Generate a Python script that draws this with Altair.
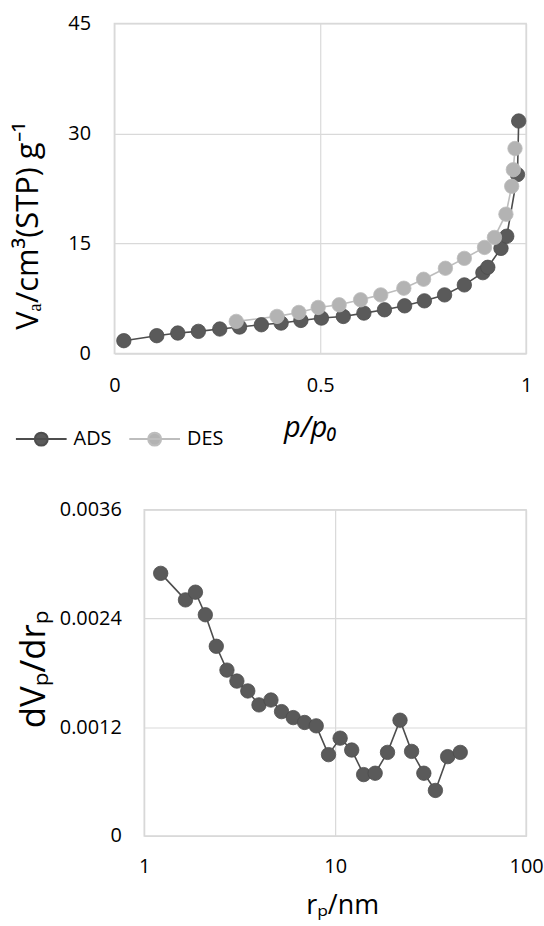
import altair as alt
import pandas as pd

# ---- top panel: N2 isotherm ----
ads_p = [0.023, 0.103, 0.154, 0.204, 0.256, 0.304, 0.357, 0.405, 0.453, 0.503,
         0.556, 0.606, 0.656, 0.705, 0.753, 0.802, 0.850, 0.895, 0.907, 0.939,
         0.953, 0.979, 0.982]
ads_v = [1.76, 2.44, 2.80, 3.03, 3.35, 3.62, 3.93, 4.16, 4.52, 4.84,
         5.06, 5.52, 5.97, 6.51, 7.19, 8.00, 9.36, 11.03, 11.76, 14.34,
         16.0, 24.4, 31.7]
des_p = [0.296, 0.395, 0.448, 0.495, 0.546, 0.598, 0.647, 0.703, 0.751, 0.804,
         0.850, 0.899, 0.923, 0.951, 0.965, 0.969, 0.973]
des_v = [4.39, 5.07, 5.61, 6.29, 6.65, 7.33, 8.00, 8.91, 10.13, 11.63,
         12.98, 14.47, 15.83, 19.0, 22.8, 25.06, 27.95]

# ---- bottom panel: pore size distribution ----
rp = [1.22, 1.645, 1.855, 2.09, 2.385, 2.712, 3.057, 3.487, 3.991, 4.61,
      5.24, 6.03, 6.92, 7.96, 9.23, 10.62, 12.21, 14.1, 16.2, 18.8,
      21.86, 25.14, 29.14, 33.5, 38.83, 45.2]
dv = [0.002898, 0.002605, 0.002690, 0.002441, 0.002093, 0.001830, 0.001709,
      0.001600, 0.001446, 0.001500, 0.001372, 0.001306, 0.001252, 0.001215,
      0.000897, 0.001079, 0.000948, 0.000677, 0.000692, 0.000922, 0.001277,
      0.000933, 0.000692, 0.000502, 0.000875, 0.000922]

series = ["ADS", "DES"]
fill_colors = ["#5a5a5a", "#b3b3b3"]
line_colors = ["#4d4d4d", "#bdbdbd"]

F = "Open Sans"
GRID = "#d9d9d9"

top_df = pd.DataFrame({
    "p": ads_p + des_p,
    "v": ads_v + des_v,
    "series": ["ADS"] * len(ads_p) + ["DES"] * len(des_p),
    "idx": list(range(len(ads_p))) + list(range(len(des_p))),
})
bot_df = pd.DataFrame({"r": rp, "d": dv, "idx": list(range(len(rp)))})

PATH = "M-1,0H1M-0.255,0A0.255,0.255,0,1,1,0.255,0A0.255,0.255,0,1,1,-0.255,0Z"
leg = alt.Legend(
    title=None, orient="none", legendX=-100, legendY=391, direction="horizontal",
    symbolType=PATH, symbolSize=2601, symbolStrokeWidth=2, symbolOpacity=1,
    labelFont=F, labelFontSize=20, labelColor="#000000", labelOffset=6,
    columnPadding=13, padding=0,
)
fill_scale = alt.Scale(domain=series, range=fill_colors)
stroke_scale = alt.Scale(domain=series, range=line_colors)

x_top = alt.X(
    "p:Q", scale=alt.Scale(domain=[0, 1], nice=False),
    axis=alt.Axis(values=[0, 0.5, 1], format=".1~f", labelFlush=False,
                  labelBaseline="middle", labelPadding=32,
                  title="p/p₀", titleFontSize=29, titleFontStyle="italic",
                  titleFontWeight="normal", titleX=197, titleY=83,
                  titleBaseline="alphabetic", titleAlign="center"),
)
y_top = alt.Y(
    "v:Q", scale=alt.Scale(domain=[0, 45], nice=False),
    axis=alt.Axis(values=[0, 15, 30, 45], labelPadding=24,
                  title="Vₐ/cm³(STP) g⁻¹", titleFontSize=31,
                  titleFontWeight="normal", titleX=-86, titleY=203,
                  titleAngle=-90, titleBaseline="middle", titleAlign="center"),
)

top_line = alt.Chart(top_df).mark_line(strokeWidth=1.6).encode(
    x=x_top, y=y_top,
    stroke=alt.Stroke("series:N", scale=stroke_scale, legend=leg),
    order="idx:Q",
)
top_pts = alt.Chart(top_df).mark_point(filled=True, size=210, opacity=1, strokeWidth=0.8).encode(
    x=x_top, y=y_top,
    fill=alt.Fill("series:N", scale=fill_scale, legend=leg),
    stroke=alt.Stroke("series:N", scale=stroke_scale, legend=leg),
)
top = alt.layer(top_line, top_pts).properties(width=414, height=332)

x_bot = alt.X(
    "r:Q", scale=alt.Scale(type="log", domain=[1, 100], nice=False),
    axis=alt.Axis(values=[1, 10, 100], format="~g", labelFlush=False,
                  labelBaseline="middle", labelPadding=31,
                  title="rₚ/nm", titleFontSize=27, titleFontWeight="normal",
                  titleX=199, titleY=78, titleBaseline="alphabetic",
                  titleAlign="center"),
)
y_bot = alt.Y(
    "d:Q", scale=alt.Scale(domain=[0, 0.0036], nice=False),
    axis=alt.Axis(values=[0, 0.0012, 0.0024, 0.0036], format=".4~f",
                  labelPadding=23, title="dVₚ/drₚ", titleFontSize=35,
                  titleFontWeight="normal", titleX=-111, titleY=160,
                  titleAngle=-90, titleBaseline="middle", titleAlign="center"),
)
bot_line = alt.Chart(bot_df).mark_line(strokeWidth=1.6, color=line_colors[0]).encode(
    x=x_bot, y=y_bot, order="idx:Q")
bot_pts = alt.Chart(bot_df).mark_point(
    filled=True, size=210, opacity=1, fill=fill_colors[0],
    stroke=line_colors[0], strokeWidth=0.8).encode(x=x_bot, y=y_bot)
bottom = alt.layer(bot_line, bot_pts).properties(width=384, height=328)

# empty spacer so the lower plot starts 30 px right of the upper one
spacer = alt.Chart(pd.DataFrame({"a": [0]})).mark_point(opacity=0).encode(
    x=alt.X("a:Q", axis=None), y=alt.Y("a:Q", axis=None)
).properties(width=30, height=328, view=alt.ViewBackground(stroke="transparent"))

bottom_row = alt.hconcat(spacer, bottom, spacing=0, bounds="flush")

chart = alt.vconcat(top, bottom_row, spacing=157, bounds="flush").properties(
    padding={"left": 12, "top": 10, "right": 0, "bottom": 0},
    background="white",
).configure_axis(
    labelFont=F, labelFontSize=20, labelColor="#000000",
    titleFont=F, titleColor="#000000",
    ticks=False, tickSize=0, domain=False,
    grid=True, gridColor=GRID, gridWidth=1.2,
).configure_view(stroke=GRID, strokeWidth=1.5)

chart.save("out.html", embed_options={"renderer": "svg", "actions": False})
